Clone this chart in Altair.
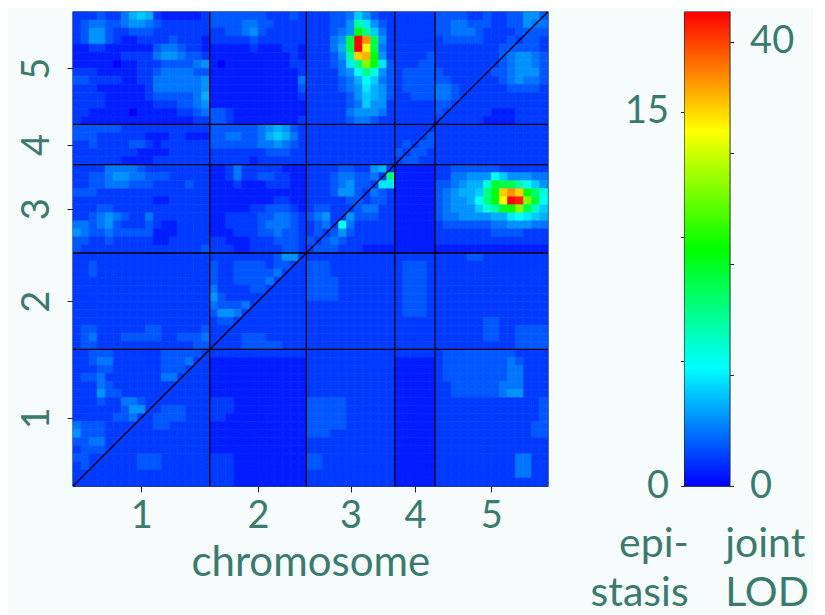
import altair as alt
import pandas as pd

# ---------------- data ----------------
CHROMS = ["1", "2", "3", "4", "5"]
CHR_CELLS = [17, 12, 11, 5, 14]          # grid positions per chromosome

EPI_MAX = 19.0       # top of colour scale, epistasis LOD (upper-left triangle)
JOINT_MAX = 42.7     # top of colour scale, joint LOD (lower-right triangle)
EPI_TICKS = [0, 5, 10, 15]
EPI_LABELS = [0, 15]
JOINT_TICKS = [0, 10, 20, 30, 40]
JOINT_LABELS = [0, 40]

# LOD level codes: character k in LEVELS = k/35 of the triangle's maximum
LEVELS = "0123456789abcdefghijklmnopqrstuvwxyz"
# rows from top (position 58) to bottom (position 0); groups = chromosomes 1..5
LOD_ROWS = [
    "22232246762111112 333333322232 22233475322 22222 33332232233553",
    "23443345543222222 333344332222 222335c8532 22222 33443332233544",
    "23553223332222222 223345322222 222345hd742 22222 33444322223333",
    "23553211222232221 222223222222 22245fzuf52 22222 23333322232332",
    "11221111113443221 111112111221 22246fzqf42 22222 22222222333332",
    "11111122224554332 111111111121 22235csth52 22223 22222222345543",
    "11111011222333345 101111111122 222348dmh83 22233 22222222345543",
    "22211111223444433 111111111112 2222459da53 23333 32222223345553",
    "33222211224444445 111111111114 22223469743 23333 33222222345443",
    "22211111124444445 111111111113 22223458653 23333 44322222233332",
    "22221111123333346 111111111112 22222357653 22333 44322222222222",
    "22221111112223345 111111111111 22222347552 22222 33222222222222",
    "22111110111112234 332111111111 22222455542 22222 32222221112222",
    "21111111111111122 332111111112 22222344322 22222 22222211112222",
    "33333322222222222 333333456532 22222222222 22222 22222222222222",
    "33322222211122111 334433467642 22222222222 22223 22222222222222",
    "22322223321222222 333333445432 22222222222 23233 22222222222222",
    "22222222111122222 222222233322 22222222222 32332 22222222222222",
    "22222211112222222 222221222222 22222222222 23322 22222222222222",
    "22224444322222222 112422222111 22223322562 11111 22333333222222",
    "22334554433322222 112422332211 2223443342d 11111 22445559755544",
    "22334443332222322 111211122211 22234533288 11111 334566agffc975",
    "33322222222222222 111111111111 22235532432 11111 345667dhsushea",
    "22222222221122222 111111112211 22222332332 11111 345569dhqzymg9",
    "22233222222222222 111112233321 23322234422 11111 345557acgimfb7",
    "22345432242222222 112222334432 34522533322 11111 34455556689876",
    "44345322232112222 112222344432 23429422222 11111 23333334455544",
    "54334333331112222 111222334332 23235322222 11111 22222223333222",
    "33223222221122222 221112223332 32343222222 11111 22222222222222",
    "32222222222222223 222112222332 23332221111 11111 11111111111111",
    "22222222222222222 222222223552 22222222222 22222 22223322222222",
    "22322222222222222 322333323322 33322222222 23332 22222222222222",
    "22322222222222222 322333334222 33322222222 23332 22222222222222",
    "22222222222222222 322333342222 33332222222 23332 22222222222222",
    "22222222222222222 422223322222 33332222222 23332 22222222222222",
    "22222222222222222 532222222222 33332222222 23332 22222222222222",
    "22222222222222222 433342222222 22222222222 23332 22222222222222",
    "22222222222222222 355422222222 22222222222 23332 22222222222222",
    "22222222222222222 233222222222 22222222222 22222 22222233222222",
    "23322222233222223 222222222222 22222222222 22222 22222233223333",
    "23422233333223334 222233322222 22222222222 22222 22222233223333",
    "23322222222222233 222233333222 22222222222 22222 22222222223333",
    "22333222222333332 222222222222 22222222222 22222 23333333332222",
    "22344222222333422 111111111111 22222222222 11111 23333333343222",
    "22233222222333222 111111111111 22222222222 11111 23333333344222",
    "23342222222442222 111111111111 22222222222 11111 23333333344222",
    "22243222222222222 111111111111 22222222222 11111 22333333444222",
    "22253322222222222 111111111111 22222222222 11111 22333333455222",
    "22232244322222222 222111111111 33333222222 11111 22222222222223",
    "22222235522333222 222111111111 33333222222 11111 22222222222223",
    "22222334223333222 221111111111 33333222222 11111 22222222222223",
    "43332222223322222 111111111111 33333222222 11111 22222222222233",
    "53332222222222222 111111111111 33322222222 11111 22222222222233",
    "33442222222222222 111111111111 22222222222 11111 22222222222222",
    "23332222222222222 111111111111 22222222222 11111 22222222222222",
    "33222222333222222 222111111111 33222222222 11111 22222222224422",
    "23222222333222222 222111111111 33222222222 11111 22222222224422",
    "22222222222222222 222111111111 22222222222 11111 22222222224422",
    "22222222222222222 222111111111 22222222222 11111 22222222222222",
]

# ---------------- styling ----------------
FONT = "Lato"
TEAL = "#3b7b6d"
BG = "#f6fcfc"
TICK = "#222222"
RAINBOW = ["#0000ff", "#00ffff", "#00ff00", "#ffff00", "#ff0000"]
STOPS = [0, 0.25, 0.5, 0.75, 1]

N = sum(CHR_CELLS)
records = []
for r, row in enumerate(LOD_ROWS):
    groups = row.split()
    assert [len(g) for g in groups] == CHR_CELLS, (r, [len(g) for g in groups])
    cells = "".join(groups)
    iy = N - 1 - r
    for ix, ch in enumerate(cells):
        k = LEVELS.index(ch)
        upper = iy > ix
        vmax = EPI_MAX if upper else JOINT_MAX
        records.append({"ix": ix, "ix2": ix + 1, "iy": iy, "iy2": iy + 1,
                        "half": "epistasis" if upper else "joint",
                        "lod": round(k / 35 * vmax, 3)})
cells_df = pd.DataFrame(records)

starts = [sum(CHR_CELLS[:i]) for i in range(len(CHR_CELLS))]
centers = [s + n / 2 for s, n in zip(starts, CHR_CELLS)]
boundaries = starts[1:]
centers_js = "[" + ",".join(str(c) for c in centers) + "]"
names_js = "[" + ",".join("'%s'" % c for c in CHROMS) + "]"
chr_label = "indexof(%s, datum.value) >= 0 ? %s[indexof(%s, datum.value)] : ''" % (
    centers_js, names_js, centers_js)

xs = alt.Scale(domain=[0, N], nice=False, zero=False)
ys = alt.Scale(domain=[0, N], nice=False, zero=False)
cscale = alt.Scale(domain=STOPS, range=RAINBOW, interpolate="rgb", clamp=True)

x_axis = alt.Axis(values=centers, labelExpr=chr_label, title="chromosome",
                  domain=False, grid=False, tickSize=6, tickColor=TICK, tickWidth=1,
                  labelFontSize=38, labelColor=TEAL, labelPadding=5, labelAngle=0,
                  labelBaseline="top", labelFlush=False, labelOverlap=False,
                  titleFontSize=42, titleColor=TEAL, titleFontWeight="normal",
                  titleY=89, titleBaseline="alphabetic")
y_axis = alt.Axis(values=centers, labelExpr=chr_label, title=None,
                  domain=False, grid=False, tickSize=6, tickColor=TICK, tickWidth=1,
                  labelFontSize=38, labelColor=TEAL, labelPadding=19, labelAngle=270,
                  labelAlign="center", labelBaseline="alphabetic",
                  labelFlush=False, labelOverlap=False)

heat = alt.Chart(cells_df).transform_calculate(
    frac="datum.half == 'epistasis' ? datum.lod / %s : datum.lod / %s" % (EPI_MAX, JOINT_MAX)
).mark_rect(strokeWidth=0.6).encode(
    x=alt.X("ix:Q", scale=xs, axis=x_axis), x2="ix2:Q",
    y=alt.Y("iy:Q", scale=ys, axis=y_axis), y2="iy2:Q",
    fill=alt.Fill("frac:Q", scale=cscale, legend=None),
    stroke=alt.Stroke("frac:Q", scale=cscale, legend=None),
)

bounds_df = pd.DataFrame({"b": boundaries})
vlines = alt.Chart(bounds_df).mark_rule(color="black", strokeWidth=1.3).encode(
    x=alt.X("b:Q", scale=xs, axis=x_axis))
hlines = alt.Chart(bounds_df).mark_rule(color="black", strokeWidth=1.3).encode(
    y=alt.Y("b:Q", scale=ys, axis=y_axis))
diag_df = pd.DataFrame({"d": [0, N]})
diag = alt.Chart(diag_df).mark_line(color="black", strokeWidth=1.3).encode(
    x=alt.X("d:Q", scale=xs, axis=x_axis), y=alt.Y("d:Q", scale=ys, axis=y_axis))

heatmap = alt.layer(heat, vlines, hlines, diag).properties(width=474.7, height=474)

# ---------------- colour bar ----------------
grad = alt.Gradient(gradient="linear",
                    stops=[alt.GradientStop(color=c, offset=o) for c, o in zip(RAINBOW, STOPS)],
                    x1=0, x2=0, y1=1, y2=0)

def sel_labels(vals):
    return "indexof([%s], datum.value) >= 0 ? datum.label : ''" % ",".join(str(v) for v in vals)

epi_axis = alt.Axis(orient="left", values=EPI_TICKS, labelExpr=sel_labels(EPI_LABELS),
                    title=None, domain=False, grid=False, tickSize=4, tickColor=TICK,
                    labelFontSize=38, labelColor=TEAL, labelPadding=12,
                    labelBaseline="middle", labelFlush=False, labelOverlap=False)
joint_axis = alt.Axis(orient="right", values=JOINT_TICKS, labelExpr=sel_labels(JOINT_LABELS),
                      title=None, domain=False, grid=False, tickSize=4, tickColor=TICK,
                      labelFontSize=38, labelColor=TEAL, labelPadding=16,
                      labelBaseline="middle", labelFlush=False, labelOverlap=False)
bar_x_axis = alt.Axis(values=[0.08, 0.89],
                      labelExpr="datum.value < 0.5 ? ['epi-', 'stasis'] : ['joint', 'LOD']",
                      labelAlign={"condition": {"test": "datum.value < 0.5", "value": "right"},
                                  "value": "left"},
                      labelBaseline="alphabetic", labelPadding=70, labelLineHeight=49,
                      labelFontSize=41, labelColor=TEAL, ticks=False, domain=False,
                      grid=False, title=None, labelFlush=False, labelOverlap=False)

bar_df = pd.DataFrame({"x0": [0], "x1": [1], "lo": [0], "hi": [EPI_MAX]})
epi_bar = alt.Chart(bar_df).mark_rect(fill=grad).encode(
    x=alt.X("x0:Q", scale=alt.Scale(domain=[0, 1], nice=False, zero=False), axis=bar_x_axis),
    x2="x1:Q",
    y=alt.Y("lo:Q", scale=alt.Scale(domain=[0, EPI_MAX], nice=False, zero=True), axis=epi_axis),
    y2="hi:Q",
)
joint_df = pd.DataFrame({"lo": [0], "hi": [JOINT_MAX]})
joint_bar = alt.Chart(joint_df).mark_rect(opacity=0).encode(
    y=alt.Y("lo:Q", scale=alt.Scale(domain=[0, JOINT_MAX], nice=False, zero=True), axis=joint_axis),
    y2="hi:Q",
)
colorbar = alt.layer(epi_bar, joint_bar).resolve_scale(y="independent").properties(
    width=45, height=474)

chart = alt.hconcat(heatmap, colorbar, spacing=136.6, bounds="flush").properties(
    padding={"left": 9, "top": 0, "right": 4, "bottom": 0},
    background=BG,
).configure(font=FONT).configure_view(stroke="black", strokeWidth=1.3)

chart.save("out.html", embed_options={"renderer": "svg", "actions": False})
